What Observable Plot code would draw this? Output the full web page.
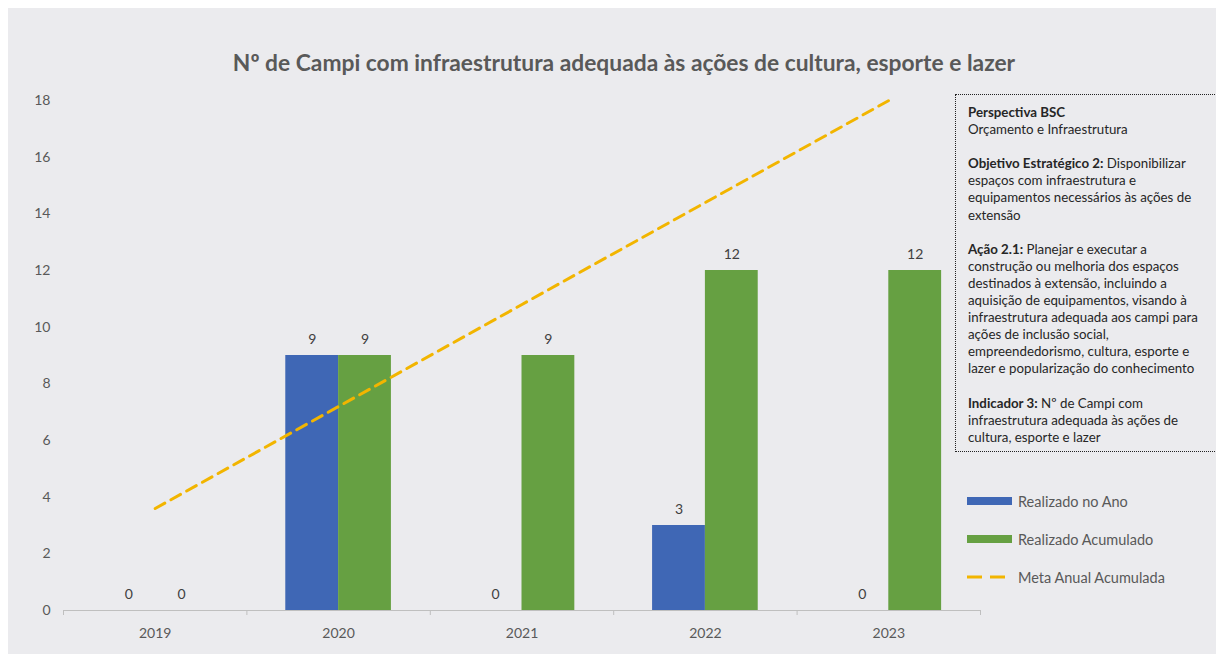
<!DOCTYPE html>
<html>
<head>
<meta charset="utf-8">
<script src="https://cdn.jsdelivr.net/npm/d3@7"></script>
<script src="https://cdn.jsdelivr.net/npm/@observablehq/plot@0.6"></script>
<style>
  html, body { margin: 0; padding: 0; background: #ffffff; }
  #wrap { position: absolute; left: 8px; top: 8px; width: 1208px; height: 646px; background: #EBEBEE; overflow: hidden; }
  #chart { position: absolute; left: -8px; top: -8px; }
  #title { position: absolute; left: 0; width: 1232px; top: 40px; text-align: center; font-family: Lato, sans-serif; font-weight: bold; font-size: 22.8px; color: #595959; white-space: nowrap; }
  #info { position: absolute; left: 947px; top: 86px; width: 270px; height: 358px; border: 1.5px dotted #222; box-sizing: border-box; padding: 9px 0 0 12px; font-family: Lato, sans-serif; font-size: 13.3px; line-height: 17.1px; color: #262626; white-space: nowrap; }
  #info p { margin: 0 0 17.1px 0; }
  #legend { position: absolute; left: 959px; top: 474px; font-family: Lato, sans-serif; font-size: 14.5px; color: #595959; }
  .lg { display: flex; align-items: center; height: 38px; }
  g[aria-label^="x-axis"] { color: #BFBFBF; }
</style>
</head>
<body>
<div id="wrap">
  <div id="chart"></div>
  <div id="title"></div>
  <div id="info"></div>
  <div id="legend"></div>
</div>
<script>
const titleText = "Nº de Campi com infraestrutura adequada às ações de cultura, esporte e lazer";
const years = [2019, 2020, 2021, 2022, 2023];
const realizadoAno = [0, 9, 0, 3, 0];
const realizadoAcumulado = [0, 9, 9, 12, 12];
const metaAnualAcumulada = [3.6, 7.2, 10.8, 14.4, 18];
const yTicks = [0, 2, 4, 6, 8, 10, 12, 14, 16, 18];
const seriesNames = ["Realizado no Ano", "Realizado Acumulado", "Meta Anual Acumulada"];
const colors = ["#3F67B5", "#66A042", "#F2B500"];

const half = 0.288;
const ano = years.map((y, i) => ({year: y, value: realizadoAno[i]}));
const acum = years.map((y, i) => ({year: y, value: realizadoAcumulado[i]}));
const meta = years.map((y, i) => ({year: y, value: metaAnualAcumulada[i]}));
const bounds = [years[0] - 0.5, ...years.map(y => y + 0.5)];

const chart = Plot.plot({
  width: 1216,
  height: 654,
  marginLeft: 63,
  marginRight: 236,
  marginTop: 100,
  marginBottom: 44,
  style: {background: "transparent", fontFamily: "Lato, sans-serif", fontSize: "14px", color: "#595959"},
  x: {type: "linear", domain: [years[0] - 0.5, years[years.length - 1] + 0.5], ticks: bounds, tickFormat: () => "", tickSize: 5, label: null},
  y: {domain: [0, 18], ticks: yTicks, tickSize: 0, tickPadding: 13, label: null, tickFormat: d => String(d)},
  marks: [
    Plot.rectY(ano, {x1: d => d.year - half, x2: d => d.year, y: "value", fill: colors[0]}),
    Plot.rectY(acum, {x1: d => d.year, x2: d => d.year + half, y: "value", fill: colors[1]}),
    Plot.ruleY([0], {stroke: "#BFBFBF", strokeWidth: 1}),
    Plot.text(ano, {x: d => d.year - half / 2, y: "value", text: d => String(d.value), dy: -16, fill: "#404040", fontSize: 14}),
    Plot.text(acum, {x: d => d.year + half / 2, y: "value", text: d => String(d.value), dy: -16, fill: "#404040", fontSize: 14}),
    Plot.text(years, {x: d => d, y: 0, text: d => String(d), dy: 23, fill: "#595959", fontSize: 14}),
    Plot.lineY(meta, {x: "year", y: "value", stroke: colors[2], strokeWidth: 3, strokeDasharray: "11,7"})
  ]
});
document.getElementById("chart").appendChild(chart);
document.getElementById("title").textContent = titleText;

const infoBlocks = [
  ["Perspectiva BSC", ["", "Orçamento e Infraestrutura"]],
  ["Objetivo Estratégico 2:", [" Disponibilizar", "espaços com infraestrutura e", "equipamentos necessários às ações de", "extensão"]],
  ["Ação 2.1:", [" Planejar e executar a", "construção ou melhoria dos espaços", "destinados à extensão, incluindo a", "aquisição de equipamentos, visando à", "infraestrutura adequada aos campi para", "ações de inclusão social,", "empreendedorismo, cultura, esporte e", "lazer e popularização do conhecimento"]],
  ["Indicador 3:", [" Nº de Campi com", "infraestrutura adequada às ações de", "cultura, esporte e lazer"]]
];
const info = document.getElementById("info");
infoBlocks.forEach(([b, lines]) => {
  const p = document.createElement("p");
  const s = document.createElement("b");
  s.textContent = b;
  p.appendChild(s);
  lines.forEach((ln, j) => {
    if (j > 0) p.appendChild(document.createElement("br"));
    p.appendChild(document.createTextNode(ln));
  });
  info.appendChild(p);
});

const legend = document.getElementById("legend");
seriesNames.forEach((n, i) => {
  const row = document.createElement("div");
  row.className = "lg";
  const sw = document.createElementNS("http://www.w3.org/2000/svg", "svg");
  sw.setAttribute("width", 51); sw.setAttribute("height", 10);
  if (i < 2) {
    sw.innerHTML = `<rect x="0" y="1" width="45" height="8" fill="${colors[i]}"/>`;
  } else {
    sw.innerHTML = `<line x1="0" y1="5" x2="45" y2="5" stroke="${colors[i]}" stroke-width="3" stroke-dasharray="15,8"/>`;
  }
  row.appendChild(sw);
  const t = document.createElement("span");
  t.textContent = n;
  row.appendChild(t);
  legend.appendChild(row);
});
</script>
</body>
</html>
